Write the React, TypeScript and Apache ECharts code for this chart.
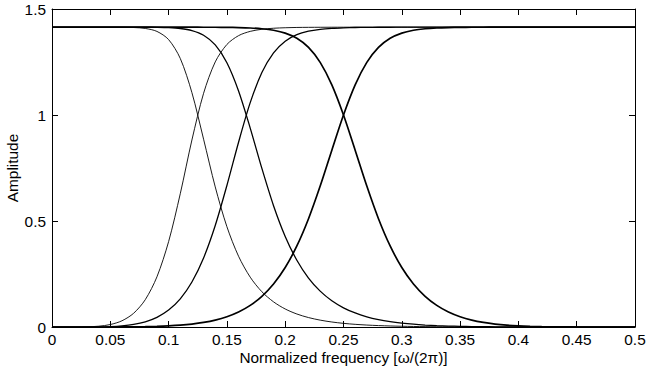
import React, { useEffect, useRef } from "react";
import * as echarts from "echarts";

// Normalized frequency samples
const freq = [
  0.0, 0.01, 0.02, 0.03, 0.04, 0.05, 0.06, 0.07, 0.08, 0.09,
  0.1, 0.11, 0.12, 0.13, 0.14, 0.15, 0.16, 0.17, 0.18, 0.19,
  0.2, 0.21, 0.22, 0.23, 0.24, 0.25, 0.26, 0.27, 0.28, 0.29,
  0.3, 0.31, 0.32, 0.33, 0.34, 0.35, 0.36, 0.37, 0.38, 0.39,
  0.4, 0.41, 0.42, 0.43, 0.44, 0.45, 0.46, 0.47, 0.48, 0.49,
  0.5,
];

// Pair 1 (crossover at 0.125) – thin lines
const lowpass1 = [
  1.4142, 1.4142, 1.4142, 1.4142, 1.4142, 1.4142, 1.4139, 1.4127, 1.4083, 1.3943,
  1.3557, 1.2669, 1.1054, 0.8858, 0.6608, 0.4732, 0.3337, 0.2351, 0.1663, 0.1186,
  0.085, 0.0613, 0.0445, 0.0324, 0.0236, 0.0172, 0.0126, 0.0092, 0.0067, 0.0048,
  0.0035, 0.0025, 0.0018, 0.0013, 0.0009, 0.0006, 0.0004, 0.0003, 0.0002, 0.0001,
  0.0001, 0, 0, 0, 0, 0, 0, 0, 0, 0,
  0,
];
const highpass1 = [
  0, 0, 0.0001, 0.0009, 0.0037, 0.0116, 0.0293, 0.0647, 0.1289, 0.2367,
  0.4026, 0.6284, 0.8821, 1.1024, 1.2504, 1.3327, 1.3743, 1.3945, 1.4044, 1.4092,
  1.4116, 1.4129, 1.4135, 1.4138, 1.414, 1.4141, 1.4142, 1.4142, 1.4142, 1.4142,
  1.4142, 1.4142, 1.4142, 1.4142, 1.4142, 1.4142, 1.4142, 1.4142, 1.4142, 1.4142,
  1.4142, 1.4142, 1.4142, 1.4142, 1.4142, 1.4142, 1.4142, 1.4142, 1.4142, 1.4142,
  1.4142,
];

// Pair 2 (crossover at ~0.167) – medium lines
const lowpass2 = [
  1.4142, 1.4142, 1.4142, 1.4142, 1.4142, 1.4142, 1.4142, 1.4142, 1.414, 1.4135,
  1.412, 1.408, 1.3982, 1.3762, 1.3307, 1.2468, 1.1136, 0.9383, 0.748, 0.5723,
  0.4272, 0.3149, 0.231, 0.1691, 0.1237, 0.0905, 0.0662, 0.0483, 0.0351, 0.0255,
  0.0184, 0.0131, 0.0093, 0.0066, 0.0046, 0.0031, 0.0021, 0.0014, 0.0009, 0.0006,
  0.0003, 0.0002, 0.0001, 0, 0, 0, 0, 0, 0, 0,
  0,
];
const highpass2 = [
  0, 0, 0, 0, 0.0007, 0.0022, 0.0056, 0.0123, 0.0246, 0.0456,
  0.0797, 0.1327, 0.2121, 0.3256, 0.4787, 0.6675, 0.8717, 1.0582, 1.2002, 1.2932,
  1.3482, 1.3787, 1.3952, 1.4041, 1.4088, 1.4113, 1.4127, 1.4134, 1.4138, 1.414,
  1.4141, 1.4142, 1.4142, 1.4142, 1.4142, 1.4142, 1.4142, 1.4142, 1.4142, 1.4142,
  1.4142, 1.4142, 1.4142, 1.4142, 1.4142, 1.4142, 1.4142, 1.4142, 1.4142, 1.4142,
  1.4142,
];

// Pair 3 (crossover at 0.25) – thick lines
const lowpass3 = [
  1.4142, 1.4142, 1.4142, 1.4142, 1.4142, 1.4142, 1.4142, 1.4142, 1.4142, 1.4142,
  1.4142, 1.4142, 1.4141, 1.414, 1.4138, 1.4134, 1.4124, 1.4105, 1.4068, 1.3996,
  1.3861, 1.3616, 1.3187, 1.2482, 1.1421, 1.0, 0.834, 0.6648, 0.5109, 0.3823,
  0.2806, 0.2028, 0.1448, 0.102, 0.0709, 0.0486, 0.0326, 0.0215, 0.0138, 0.0085,
  0.0051, 0.0029, 0.0016, 0.0008, 0.0004, 0.0001, 0, 0, 0, 0,
  0,
];
const highpass3 = [
  0, 0, 0, 0, 0, 0.0001, 0.0004, 0.0008, 0.0016, 0.0029,
  0.0051, 0.0085, 0.0138, 0.0215, 0.0326, 0.0486, 0.0709, 0.102, 0.1448, 0.2028,
  0.2806, 0.3823, 0.5109, 0.6648, 0.834, 1.0, 1.1421, 1.2482, 1.3187, 1.3616,
  1.3861, 1.3996, 1.4068, 1.4105, 1.4124, 1.4134, 1.4138, 1.414, 1.4141, 1.4142,
  1.4142, 1.4142, 1.4142, 1.4142, 1.4142, 1.4142, 1.4142, 1.4142, 1.4142, 1.4142,
  1.4142,
];

const xTicks = { min: 0, max: 0.5, interval: 0.05 };
const yTicks = { min: 0, max: 1.5, interval: 0.5 };

const FONT = "'Liberation Sans', Arial, Helvetica, sans-serif";

export default function App() {
  const ref = useRef<HTMLDivElement>(null);

  useEffect(() => {
    if (!ref.current) return;
    const chart = echarts.init(ref.current, null, { renderer: "svg" });

    const zip = (ys: number[]) => freq.map((x, i) => [x, ys[i]]);
    const curves: { data: number[]; width: number }[] = [
      { data: lowpass1, width: 0.9 },
      { data: highpass1, width: 0.9 },
      { data: lowpass2, width: 1.3 },
      { data: highpass2, width: 1.3 },
      { data: lowpass3, width: 1.7 },
      { data: highpass3, width: 1.7 },
    ];

    const axisLine = { show: true, onZero: false, lineStyle: { color: "#000", width: 1 } };
    const tick = { show: true, inside: true, length: 6, lineStyle: { color: "#000", width: 1 } };

    chart.setOption({
      animation: false,
      backgroundColor: "#fff",
      textStyle: { fontFamily: FONT },
      grid: { left: 52, right: 11, top: 9, bottom: 47, containLabel: false, outerBoundsMode: "none" },
      xAxis: [
        {
          type: "value",
          position: "bottom",
          ...xTicks,
          axisLine,
          axisTick: tick,
          splitLine: { show: false },
          axisLabel: { color: "#000", fontSize: 15.4, margin: 5, fontFamily: FONT },
          name: "Normalized frequency [\u03c9/(2\u03c0)]",
          nameLocation: "middle",
          nameGap: 23,
          nameMoveOverlap: false,
          nameTextStyle: { color: "#000", fontSize: 15.4, fontFamily: FONT },
        },
        {
          type: "value",
          position: "top",
          ...xTicks,
          axisLine,
          axisTick: tick,
          splitLine: { show: false },
          axisLabel: { show: false },
        },
      ],
      yAxis: [
        {
          type: "value",
          position: "left",
          ...yTicks,
          axisLine,
          axisTick: tick,
          splitLine: { show: false },
          axisLabel: { color: "#000", fontSize: 15.4, margin: 6, fontFamily: FONT },
          name: "Amplitude",
          nameLocation: "middle",
          nameGap: 32,
          nameMoveOverlap: false,
          nameTextStyle: { color: "#000", fontSize: 15.4, fontFamily: FONT },
        },
        {
          type: "value",
          position: "right",
          ...yTicks,
          axisLine,
          axisTick: tick,
          splitLine: { show: false },
          axisLabel: { show: false },
        },
      ],
      series: curves.map((c) => ({
        type: "line",
        xAxisIndex: 0,
        yAxisIndex: 0,
        data: zip(c.data),
        showSymbol: false,
        symbol: "none",
        smooth: 0.3,
        lineStyle: { color: "#000", width: c.width },
        silent: true,
      })),
    });

    return () => chart.dispose();
  }, []);

  return (
    <div
      ref={ref}
      style={{ position: "fixed", left: 0, top: 0, width: 646, height: 374, background: "#fff" }}
    />
  );
}
